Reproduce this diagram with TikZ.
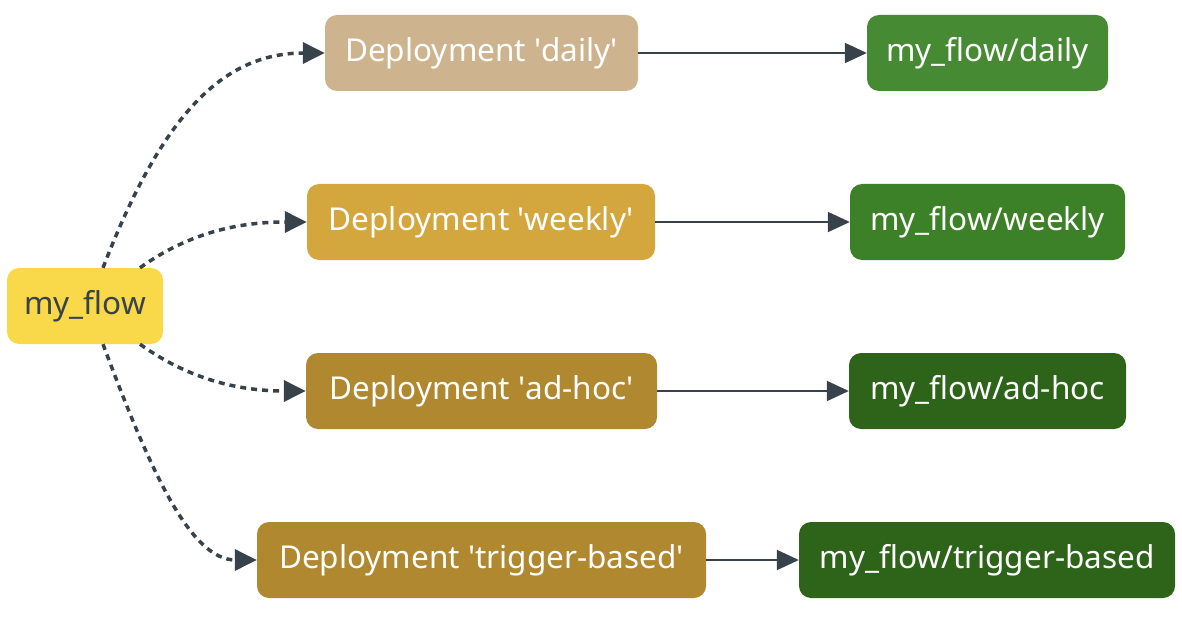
\documentclass[tikz,border=0pt]{standalone}
\usepackage{fontspec}
\setmainfont{Noto Sans}
\usetikzlibrary{arrows.meta}

\definecolor{flowyellow}{HTML}{F9D84A}
\definecolor{depdaily}{HTML}{CDB48E}
\definecolor{depweekly}{HTML}{D4A73E}
\definecolor{depadhoc}{HTML}{B08830}
\definecolor{rundaily}{HTML}{468A34}
\definecolor{runweekly}{HTML}{3C8127}
\definecolor{runadhoc}{HTML}{2D6419}
\definecolor{linegray}{HTML}{37424A}

\newcommand{\q}{\textquotesingle}

\begin{document}
\begin{tikzpicture}[x=1pt,y=-1pt,
	box/.style={rounded corners=12pt, minimum height=76pt, inner sep=0pt, text=white,
		font=\fontsize{31.5}{34}\selectfont},
	link/.style={-{Triangle[length=22pt,width=20pt]}, draw=linegray, line width=2pt},
	dots/.style={-{Triangle[length=22pt,width=21pt]}, draw=linegray, line width=3.5pt,
		dash pattern=on 6pt off 5pt}]
		\useasboundingbox (0,0) rectangle (1182,620);
		% flow
		\node[box, fill=flowyellow, text=linegray, minimum width=156pt] (flow) at (85,306) {my\_flow};
		% deployments
		\node[box, fill=depdaily, minimum width=313pt] (daily) at (481.5,53) {Deployment \q daily\q};
		\node[box, fill=depweekly, minimum width=348pt] (weekly) at (481,222) {Deployment \q weekly\q};
		\node[box, fill=depadhoc, minimum width=351pt] (adhoc) at (481.5,391) {Deployment \q ad-hoc\q};
		\node[box, fill=depadhoc, minimum width=449pt] (trigger) at (481.5,560) {Deployment \q trigger-based\q};
		% runs
		\node[box, fill=rundaily, minimum width=241pt] (rdaily) at (987.5,53) {my\_flow/daily};
		\node[box, fill=runweekly, minimum width=275pt] (rweekly) at (987.5,222) {my\_flow/weekly};
		\node[box, fill=runadhoc, minimum width=277pt] (radhoc) at (987.5,391) {my\_flow/ad-hoc};
		\node[box, fill=runadhoc, minimum width=376pt] (rtrigger) at (987,560) {my\_flow/trigger-based};
		% dotted edges
		\draw[dots] ([xshift=18pt]flow.north) .. controls (160,120) and (220,53) .. (daily.west);
		\draw[dots] ([xshift=55pt]flow.north) .. controls (190,232) and (240,222) .. (weekly.west);
		\draw[dots] ([xshift=55pt]flow.south) .. controls (190,380) and (240,391) .. (adhoc.west);
		\draw[dots] ([xshift=18pt]flow.south) .. controls (150,470) and (190,560) .. (trigger.west);
		% solid edges
		\draw[link] (daily) -- (rdaily);
		\draw[link] (weekly) -- (rweekly);
		\draw[link] (adhoc) -- (radhoc);
		\draw[link] (trigger) -- (rtrigger);
\end{tikzpicture}
\end{document}
